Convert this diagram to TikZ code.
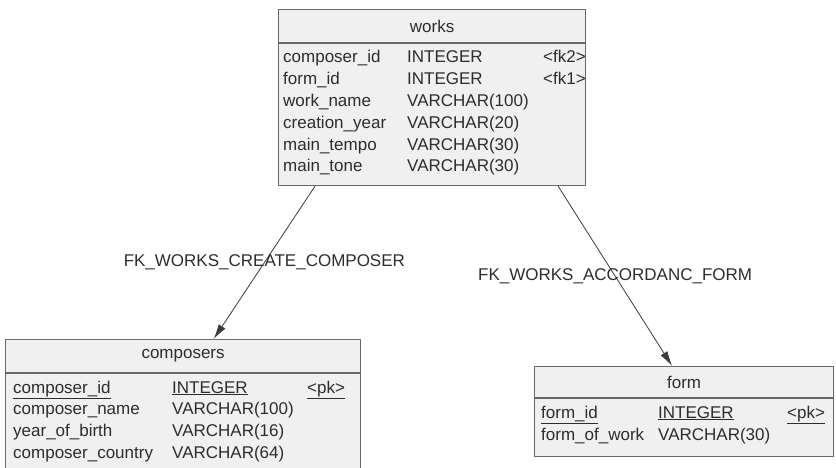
\documentclass[tikz,border=0pt]{standalone}
\usepackage{fontspec}
\setmainfont{Liberation Sans}
\usepackage{xcolor}
\usetikzlibrary{arrows.meta}
\usetikzlibrary{calc, math}
\definecolor{tablefill}{RGB}{240, 240, 240}
\definecolor{tableline}{RGB}{105, 105, 105}
\definecolor{textgray}{RGB}{45, 45, 45}
\definecolor{fkgray}{RGB}{60, 60, 60}
\tikzset{
tablebox/.style={draw=tableline, fill=tablefill, line width=1.2, anchor=north west, inner sep=0},
fieldtext/.style={anchor=base west, inner sep=0, text=textgray, font=\fontsize{17}{19}\selectfont},
titletext/.style={inner sep=0, text=textgray, font=\fontsize{17}{19}\selectfont},
fkline/.style={draw=fkgray, line width=0.8, -{Latex[length=15pt, width=8pt]}},
fklabel/.style={inner sep=0, text=textgray, font=\fontsize{17}{19}\selectfont}
}

\begin{document}
\begin{tikzpicture}[x=1pt, y=-1pt]
\tikzmath{
\rowh=21.8;
}
\clip (0,0) rectangle (836,468);

% works
\node[tablebox, minimum width=307pt, minimum height=176pt] (works) at (278,9) {};
\draw[tableline, line width=1.2] ($(works.north west)+(0,34)$) -- ($(works.north east)+(0,34)$);
\node[titletext] (works-title) at ($(works.north)+(0,17)$) {works};
\foreach \n/\t/\k [count=\i from 0] in {composer\_id/INTEGER/<fk2>, form\_id/INTEGER/<fk1>, work\_name/VARCHAR(100)/, creation\_year/VARCHAR(20)/, main\_tempo/VARCHAR(30)/, main\_tone/VARCHAR(30)/}{
\node[fieldtext] (works-n\i) at (283,{63+\i*\rowh}) {\n};
\node[fieldtext] (works-t\i) at (407,{63+\i*\rowh}) {\t};
\node[fieldtext] (works-k\i) at (543,{63+\i*\rowh}) {\k};
}

% composers
\node[tablebox, minimum width=355pt, minimum height=150pt] (composers) at (5,339) {};
\draw[tableline, line width=1.2] ($(composers.north west)+(0,34)$) -- ($(composers.north east)+(0,34)$);
\node[titletext] (composers-title) at ($(composers.north)+(0,17)$) {composers};
\foreach \n/\t/\k [count=\i from 0] in {{\underline{composer\_id}}/{\underline{INTEGER}}/{\underline{<pk>}}, composer\_name/VARCHAR(100)/, year\_of\_birth/VARCHAR(16)/, composer\_country/VARCHAR(64)/}{
\node[fieldtext] (composers-n\i) at (13,{393+\i*\rowh}) {\n};
\node[fieldtext] (composers-t\i) at (172,{393+\i*\rowh}) {\t};
\node[fieldtext] (composers-k\i) at (307,{393+\i*\rowh}) {\k};
}

% form
\node[tablebox, minimum width=299pt, minimum height=90pt] (form) at (534,366) {};
\draw[tableline, line width=1.2] ($(form.north west)+(0,32)$) -- ($(form.north east)+(0,32)$);
\node[titletext] (form-title) at ($(form.north)+(0,16)$) {form};
\foreach \n/\t/\k [count=\i from 0] in {{\underline{form\_id}}/{\underline{INTEGER}}/{\underline{<pk>}}, form\_of\_work/VARCHAR(30)/}{
\node[fieldtext] (form-n\i) at (541,{418+\i*22.5}) {\n};
\node[fieldtext] (form-t\i) at (658,{418+\i*22.5}) {\t};
\node[fieldtext] (form-k\i) at (787,{418+\i*22.5}) {\k};
}

% foreign keys
\coordinate (W1) at ($(works.south west)!0.12!(works.south east)$);
\coordinate (C1) at ($(composers.north west)!0.586!(composers.north east)$);
\coordinate (W2) at ($(works.south west)!0.909!(works.south east)$);
\coordinate (F1) at ($(form.north west)!0.46!(form.north east)$);

\draw[fkline] (W1) -- (C1) node[midway, fklabel] (fk-composer) {FK\_WORKS\_CREATE\_COMPOSER};
\draw[fkline] (W2) -- (F1) node[midway, fklabel] (fk-form) {FK\_WORKS\_ACCORDANC\_FORM};
\end{tikzpicture}
\end{document}
